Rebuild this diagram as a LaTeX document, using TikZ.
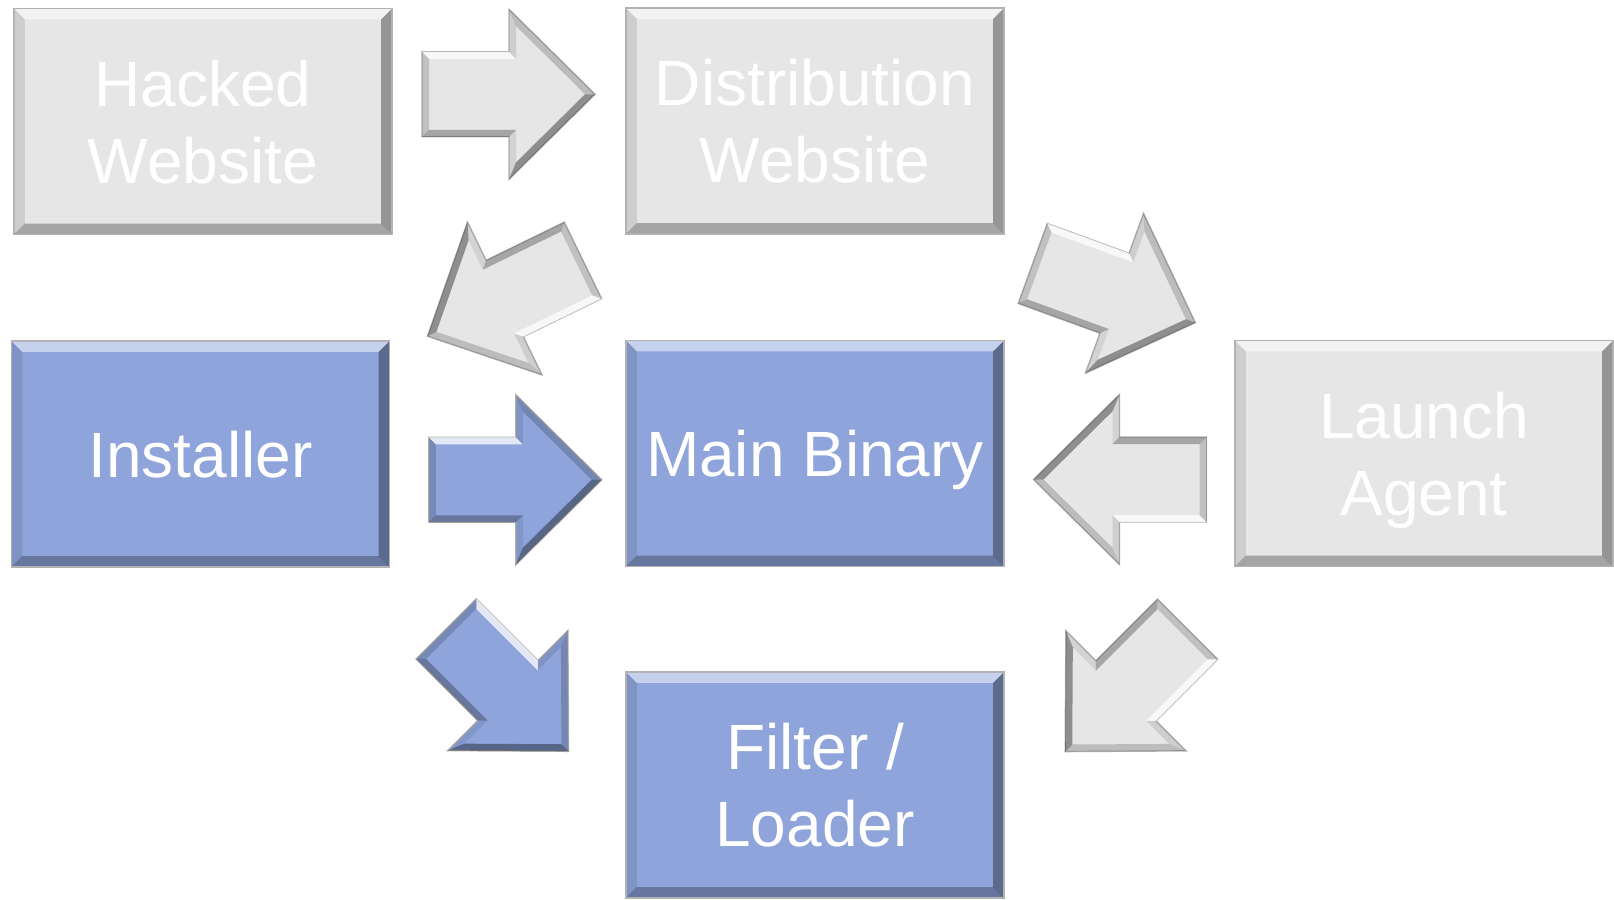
\documentclass[tikz,border=0pt]{standalone}
\usepackage{fontspec}
\setmainfont{Liberation Sans}
\usetikzlibrary{calc}

\definecolor{boxgray}{RGB}{230,230,230}
\definecolor{boxblue}{RGB}{142,164,219}

\tikzset{
  stage/.style={rectangle, minimum width=3.78cm, minimum height=2.26cm,
    inner sep=0pt, draw=black!30, line width=0.5pt, text=white, align=center,
    font=\fontsize{18.2}{21.9}\selectfont, text depth=0pt,
    path picture={
      \path (path picture bounding box.north west) coordinate (pnw)
            (path picture bounding box.north east) coordinate (pne)
            (path picture bounding box.south west) coordinate (psw)
            (path picture bounding box.south east) coordinate (pse);
      \fill[white, opacity=.5] (pnw) -- (pne) -- ([shift={(-1.1mm,-1.1mm)}]pne)
            -- ([shift={(1.1mm,-1.1mm)}]pnw) -- cycle;
      \fill[black, opacity=.28] (psw) -- (pse) -- ([shift={(-1.1mm,1.1mm)}]pse)
            -- ([shift={(1.1mm,1.1mm)}]psw) -- cycle;
      \fill[black, opacity=.35] (pne) -- (pse) -- ([shift={(-1.1mm,1.1mm)}]pse)
            -- ([shift={(-1.1mm,-1.1mm)}]pne) -- cycle;
      \fill[black, opacity=.1] (pnw) -- (psw) -- ([shift={(1.1mm,1.1mm)}]psw)
            -- ([shift={(1.1mm,-1.1mm)}]pnw) -- cycle;
    }},
  graybox/.style={stage, fill=boxgray},
  bluebox/.style={stage, fill=boxblue}
}

% block arrow: #1 middle of the head base, #2 direction, #3 fill
\newcommand{\bevelarrow}[3]{%
  \begin{scope}[shift={#1}, rotate=#2, x=0.01cm, y=0.01cm]
    \filldraw[fill=#3, draw=black!30, line width=0.4pt]
      (-87,42.5) -- (0,42.5) -- (0,85) -- (86,0) -- (0,-85) -- (0,-42.5) -- (-87,-42.5) -- cycle;
    \fill[white, opacity=.75] (-87,42.5) -- (0,42.5) -- (7,35.5) -- (-80,35.5) -- cycle;
    \fill[black, opacity=.1] (0,42.5) -- (0,85) -- (7,68.2) -- (7,35.5) -- cycle;
    \fill[black, opacity=.18] (0,85) -- (86,0) -- (76,0) -- (7,68.2) -- cycle;
    \fill[black, opacity=.38] (86,0) -- (0,-85) -- (7,-68.2) -- (76,0) -- cycle;
    \fill[black, opacity=.08] (0,-85) -- (0,-42.5) -- (7,-35.5) -- (7,-68.2) -- cycle;
    \fill[black, opacity=.28] (0,-42.5) -- (-87,-42.5) -- (-80,-35.5) -- (7,-35.5) -- cycle;
    \fill[black, opacity=.16] (-87,-42.5) -- (-87,42.5) -- (-80,35.5) -- (-80,-35.5) -- cycle;
  \end{scope}}

\begin{document}
\begin{tikzpicture}[x=0.01cm, y=-0.01cm]
    \useasboundingbox (0,0) rectangle (1614,899);

    \node[graybox] at (203,121.5) (hacked) {Hacked\\Website};
    \node[graybox] at (815,121) (dist) {Distribution\\Website};
    \node[bluebox] at (200.5,454) (installer) {Installer};
    \node[bluebox] at (815,453.5) (main) {Main Binary};
    \node[graybox] at (1424,453.5) (launch) {Launch\\Agent};
    \node[bluebox] at (815,785) (filter) {Filter /\\Loader};

    \bevelarrow{($(hacked.east)!.5!(dist.west)+(0,-27)$)}{0}{boxgray}
    \bevelarrow{($(dist.south west)!.5!(installer.north east)+(-3,11)$)}{206}{boxgray}
    \bevelarrow{($(dist.south east)!.5!(launch.north west)+(-5,6)$)}{-20}{boxgray}
    \bevelarrow{($(installer.east)!.5!(main.west)+(8,26)$)}{0}{boxblue}
    \bevelarrow{($(launch.west)!.5!(main.east)+(0,26)$)}{180}{boxgray}
    \bevelarrow{($(installer.south east)!.5!(filter.north west)+(0,71)$)}{-45}{boxblue}
    \bevelarrow{($(launch.south west)!.5!(filter.north east)+(6.5,71.5)$)}{225}{boxgray}
\end{tikzpicture}
\end{document}
